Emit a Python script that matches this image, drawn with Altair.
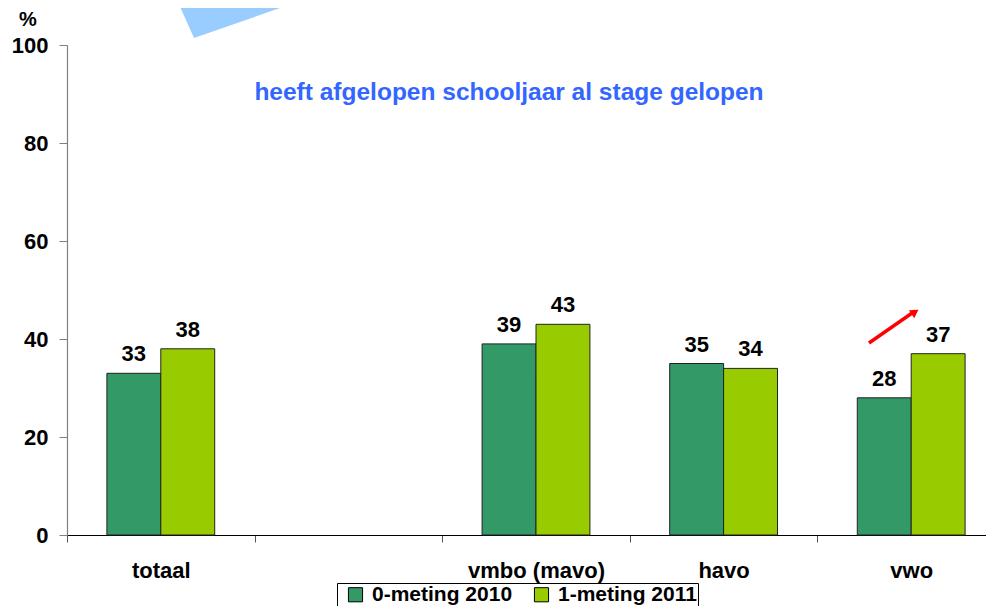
import altair as alt
import pandas as pd

categories = ["totaal", " ", "vmbo (mavo)", "havo", "vwo"]
series = ["0-meting 2010", "1-meting 2011"]
values_2010 = [33, None, 39, 35, 28]
values_2011 = [38, None, 43, 34, 37]
colors = ["#339966", "#99CC00"]
y_ticks = [0, 20, 40, 60, 80, 100]
title_text = "heeft afgelopen schooljaar al stage gelopen"
unit_text = "%"

rows = []
for cat, a, b in zip(categories, values_2010, values_2011):
    if a is not None:
        rows.append({"cat": cat, "series": series[0], "value": a})
    if b is not None:
        rows.append({"cat": cat, "series": series[1], "value": b})
df = pd.DataFrame(rows)

FONT = "Liberation Sans"

x_enc = alt.X(
    "cat:N",
    sort=categories,
    scale=alt.Scale(domain=categories, paddingInner=0, paddingOuter=0, range=[0, 938]),
    axis=alt.Axis(
        title=None, labelAngle=0, labelFontSize=22, labelFontWeight="bold",
        labelColor="black", labelFont=FONT, labelPadding=18, tickBand="extent",
        tickSize=7, tickColor="#555555", domainColor="black", domainWidth=1.2,
        grid=False,
    ),
)
y_enc = alt.Y(
    "value:Q",
    scale=alt.Scale(domain=[0, 100], nice=False),
    axis=alt.Axis(
        title=None, values=y_ticks, labelFontSize=22, labelFontWeight="bold",
        labelColor="black", labelFont=FONT, labelPadding=11, tickSize=8,
        tickColor="#808080", domainColor="#808080", domainWidth=1.2, grid=False,
    ),
)
xoff = alt.XOffset("series:N", sort=series,
                   scale=alt.Scale(paddingInner=0, paddingOuter=0.74))

bars = alt.Chart(df).mark_bar(stroke="#222222", strokeWidth=1).encode(
    x=x_enc,
    xOffset=xoff,
    y=y_enc,
    color=alt.Color(
        "series:N", sort=series,
        scale=alt.Scale(domain=series, range=colors),
        legend=alt.Legend(
            title=None, orient="none", legendX=270, legendY=538,
            direction="horizontal", strokeColor="black", fillColor="white",
            padding=1, symbolType="square", symbolSize=200, symbolOffset=7,
            symbolStrokeColor="black", symbolStrokeWidth=1, symbolOpacity=1,
            labelFontSize=21, labelFontWeight="bold", labelFont=FONT,
            labelColor="black", columnPadding=11, labelOffset=6,
        ),
    ),
)

labels = alt.Chart(df).mark_text(
    fontSize=22, fontWeight="bold", font=FONT, color="black",
    baseline="alphabetic", dy=-12,
).encode(x=alt.X("cat:N", sort=categories), xOffset=xoff, y="value:Q",
         text="value:Q")

one = alt.Data(values=[{"k": 1}])

title = alt.Chart(one).mark_text(
    fontSize=24.5, fontWeight="bold", font=FONT, color="#3366FF",
    align="center", baseline="middle",
).encode(x=alt.value(442), y=alt.value(48), text=alt.value(title_text))

unit = alt.Chart(one).mark_text(
    fontSize=20, fontWeight="bold", font=FONT, color="black",
    align="center", baseline="middle",
).encode(x=alt.value(-39), y=alt.value(-25), text=alt.value(unit_text))

tri_x = [110, 127, 236]
tri_y = [-45, -7, -45]
tri = alt.Chart(alt.Data(values=[{"px": a, "py": b, "py2": -45} for a, b in zip(tri_x, tri_y)])).mark_area(
    color="#99CCFF", opacity=1
).encode(
    x=alt.X("px:Q", scale=None, axis=None),
    y=alt.Y("py:Q", scale=None, axis=None),
    y2="py2:Q",
)

arrow_line = alt.Chart(one).mark_rule(color="#FF0000", strokeWidth=3.5).encode(
    x=alt.value(802), y=alt.value(298), x2=alt.value(848), y2=alt.value(266)
)
arrow_head = alt.Chart(one).mark_point(
    shape="triangle-up", filled=True, color="#FF0000", opacity=1, size=90, angle=56
).encode(x=alt.value(848), y=alt.value(267))

chart = alt.layer(tri, bars, labels, title, unit, arrow_line, arrow_head).properties(
    width=919, height=490,
    autosize=alt.AutoSizeParams(type="none"),
    padding={"left": 59, "top": 37, "right": 0, "bottom": 71},
    background="white",
).configure_view(stroke=None)

chart.save("out.html", embed_options={"renderer": "svg", "actions": False})
